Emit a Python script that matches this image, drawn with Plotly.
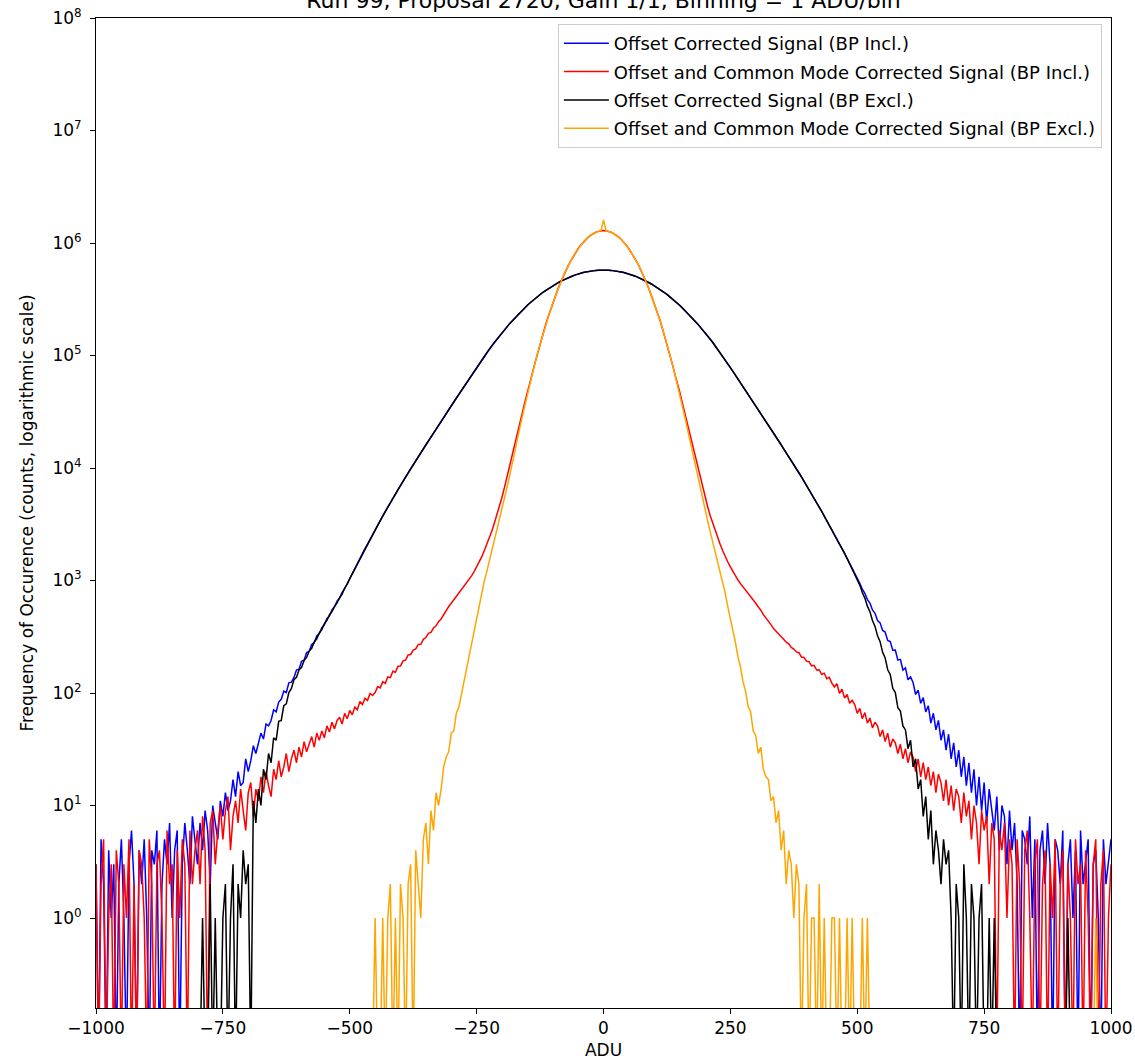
import plotly.graph_objects as go

# Histogram bin centres (ADU), sampled every 5 ADU
adu = list(range(-1000, 1001, 5))

x_tick_vals = [-1000, -750, -500, -250, 0, 250, 500, 750, 1000]
x_tick_text = ["\u22121000", "\u2212750", "\u2212500", "\u2212250", "0", "250", "500", "750", "1000"]
y_tick_vals = [1, 10, 100, 1000, 1e4, 1e5, 1e6, 1e7, 1e8]
y_tick_text = ["10<sup>%d</sup>" % k for k in range(9)]

# ---- Offset corrected signal: central part (x = -480 ... 480), identical for BP incl./excl.
offset_core = [
    1570, 1740, 1920, 2110, 2330, 2570, 2820, 3110, 3410, 3740,
    4110, 4500, 4930, 5390, 5890, 6430, 7020, 7650, 8330, 9070,
    9860, 10700, 11600, 12600, 13700, 14800, 16100, 17400, 18900, 20500,
    22200, 24000, 26000, 28200, 30500, 33000, 35700, 38600, 41800, 45200,
    48900, 52900, 57200, 61800, 66800, 72200, 78000, 84200, 91000, 98000,
    106000, 114000, 122000, 131000, 140000, 150000, 160000, 170000, 181000, 192000,
    203000, 215000, 227000, 240000, 253000, 266000, 280000, 293000, 307000, 321000,
    335000, 349000, 363000, 375000, 389000, 403000, 417000, 430000, 443000, 456000,
    468000, 480000, 491000, 502000, 512000, 521000, 531000, 539000, 546000, 553000,
    559000, 564000, 568000, 571000, 573000, 575000,
    575000,
    575000, 573000, 571000, 568000, 564000, 559000,
    553000, 546000, 539000, 531000, 521000, 512000, 502000, 491000, 480000, 468000,
    456000, 443000, 430000, 417000, 403000, 389000, 375000, 363000, 349000, 335000,
    321000, 307000, 293000, 280000, 266000, 253000, 240000, 227000, 215000, 203000,
    192000, 181000, 170000, 160000, 150000, 140000, 131000, 122000, 114000, 106000,
    98000, 91000, 84200, 78000, 72200, 66800, 61800, 57200, 52900, 48900,
    45200, 41800, 38600, 35700, 33000, 30500, 28200, 26000, 24000, 22200,
    20500, 18900, 17400, 16100, 14800, 13700, 12600, 11600, 10700, 9860,
    9070, 8330, 7650, 7020, 6430, 5890, 5390, 4930, 4500, 4110,
    3740, 3410, 3110, 2820, 2570, 2330, 2110, 1920, 1740, 1570,
]

# Offset Corrected Signal (BP Incl.) tails: x = -1000 ... -485 and 485 ... 1000
blue_left = [
    3, 0, 5, 2, 0, 4, 1, 3, 0, 2, 5, 1, 0, 3, 6, 2, 0, 4, 2, 5,
    1, 0, 4, 3, 6, 0, 2, 5, 3, 7, 1, 4, 6, 0, 3, 7, 4, 2, 8, 5, 3,
    7, 4, 9, 6, 2, 10, 7, 5, 11, 8,
    13, 9, 11, 17, 12, 20, 15, 16, 26, 20, 25, 34, 29, 35, 44, 39, 53, 51, 57, 71,
    68, 83, 88,
    104, 101, 123, 125, 137, 160, 163, 191, 196, 229, 234, 270, 280, 321, 337, 381,
    404, 458, 484, 548, 584, 655, 701, 785, 845, 940,
    1049, 1151, 1288, 1413,
]
blue_right = [
    1425, 1276, 1162, 1039,
    945, 836, 769, 676, 629, 548, 511, 441, 420, 360, 348, 293, 286, 240, 241, 196,
    199, 160, 167, 131, 139, 124, 97, 106, 81, 91, 68, 77, 54, 66, 47, 57, 38, 47, 31, 43,
    26, 36, 22, 31, 18, 27, 15, 24, 13, 21, 10, 18, 9, 16,
    7, 14, 9, 6, 12, 4, 10, 8, 3, 9,
    4, 7, 2, 0, 6, 5, 3, 8, 1, 5, 0, 4, 6, 2, 7, 3, 0, 5, 4, 2,
    6, 0, 3, 5, 1, 4, 0, 6, 2, 3, 5, 0, 3, 4, 1, 0, 5, 2, 3, 5,
]

# Offset Corrected Signal (BP Excl.) tails
black_left = [
    0, 0, 0, 0, 0, 0, 0, 0, 0, 0, 0, 0, 0, 0, 0, 0, 0, 0, 0, 0,
    0, 0, 0, 0, 0, 0, 0, 0, 0, 0, 0, 0, 0, 0, 0, 0, 0, 0, 0, 0, 0, 0,
    1, 0, 0, 2, 0, 1, 0, 0, 1, 2, 0, 1, 3, 0, 2, 1, 4, 2, 3,
    0, 11, 7, 14, 10, 21, 17, 29, 24, 40, 38, 56, 57, 77, 80, 101,
    110, 131, 138, 160, 169, 195, 207, 236, 250, 284, 303, 342, 366, 413, 443, 494,
    530, 589, 633, 701, 758, 858, 930, 1040, 1150, 1275, 1410,
]
black_right = [
    1405, 1265, 1140, 1025,
    910, 783, 697, 592, 527, 441, 391, 322, 286, 230, 205, 161,
    146, 110, 101, 74, 69, 51, 47, 32, 38, 22, 26, 14, 17,
    8, 12, 5, 9, 3, 6, 4, 2, 5, 3, 4,
    1, 0, 2, 1, 0, 3, 1, 0, 2, 1, 0, 1, 2, 0, 0, 1, 0, 1,
    0, 0, 0, 0, 0, 0, 0, 0, 0, 0, 0, 0, 0, 0, 0, 0, 0, 0, 0, 0,
    0, 0, 0, 0, 0, 0, 0, 0, 1, 0, 0, 0, 0, 0, 0, 0, 0, 0, 0, 0,
    0, 0, 0, 0, 0, 0,
]

# ---- Offset + common mode corrected: central part (x = -140 ... 140)
cm_core = [
    70100, 86000, 105000, 126000, 152000, 181000, 214000, 250000, 292000, 337000,
    387000, 440000, 498000, 559000, 622000, 688000, 755000, 822000, 889000, 954000,
    1016000, 1074000, 1127000, 1174000, 1214000, 1246000, 1269000, 1287000,
    1290000,
    1287000, 1269000, 1246000, 1214000, 1174000, 1127000, 1074000, 1016000,
    954000, 889000, 822000, 755000, 688000, 622000, 559000, 498000, 440000, 387000,
    337000, 292000, 250000, 214000, 181000, 152000, 126000, 105000, 86000, 70100,
]
orange_peak = 1600000  # single spike in the x = 0 bin (BP excl.)

# Offset and Common Mode Corrected Signal (BP Incl.) tails: x = -1000 ... -145 and 145 ... 1000
red_left = [
    3, 0, 2, 5, 0, 1, 3, 0, 4, 2, 0, 3, 1, 5, 0, 2, 0, 4, 3, 1,
    0, 5, 2, 0, 3, 4, 1, 0, 6, 2, 3, 0, 4, 1, 5, 3, 0, 6, 2, 4,
    6, 2, 8, 4, 0, 7, 9, 3, 6, 10, 5, 9, 12, 4, 8, 11, 7, 14, 9, 6,
    13, 16, 8, 14, 11, 18, 13, 20, 15, 12, 21, 17, 25, 18, 22, 29, 20, 26, 31, 24,
    33, 27, 37, 30, 35, 41, 33, 44, 38, 46, 40, 51, 45, 55, 48, 57, 61, 53, 66, 59,
    70, 64, 75, 71, 84, 79, 90, 86, 99, 95,
    101, 114, 111, 126, 122, 139, 137, 156, 153, 173,
    174, 193, 196, 218, 220, 241, 247, 270, 271, 300,
    311, 339, 346, 378, 395, 431, 455, 500, 536, 587,
    627, 672, 718, 772, 818, 876, 934,
    1010, 1100, 1200, 1320, 1460, 1620, 1840, 2090, 2400,
    2750, 3240, 3800, 4570, 5500, 6760, 8320, 10400, 12900, 16000,
    19950, 24800, 30900, 38500, 47900, 58900,
]
red_right = [
    58900, 47900, 38500, 30900, 24800, 19950, 16000, 12900, 10400, 8320,
    6760, 5500, 4570, 3800, 3240, 2750, 2400, 2090, 1840, 1620,
    1460, 1320, 1200, 1100, 1010,
    938, 880, 825, 778, 725, 672, 628, 582, 545, 497,
    466, 429, 405, 374, 356, 335, 316, 301, 283, 274,
    254, 246, 232, 228, 209, 207, 192, 190, 174, 176,
    160, 161, 146, 150, 134, 138, 122,
    113, 121, 99, 108, 90, 97, 81, 86, 79, 66, 73, 59, 67, 54, 60, 49, 55, 51, 41, 47,
    37, 44, 33, 39, 36, 29, 35, 26, 32, 24, 30, 27, 20, 26, 18, 24, 17, 22, 15, 20,
    13, 19, 16, 11, 17, 10, 15, 9, 14, 12, 7, 13, 8, 11, 5, 10, 7, 3, 9, 6,
    8, 2, 7, 5, 0, 6, 4, 7, 1, 5,
    3, 0, 5, 2, 0, 4, 6, 1, 0, 3, 5, 0, 2, 4, 0, 3, 1, 5, 0, 2,
    4, 0, 3, 1, 0, 5, 2, 3, 0, 4, 1, 0, 3, 5, 0, 2, 4, 0, 1, 3,
]

# Offset and Common Mode Corrected Signal (BP Excl.) tails
orange_left = [
    0, 0, 0, 0, 0, 0, 0, 0, 0, 0, 0, 0, 0, 0, 0, 0, 0, 0, 0, 0,
    0, 0, 0, 0, 0, 0, 0, 0, 0, 0, 0, 0, 0, 0, 0, 0, 0, 0, 0, 0,
    0, 0, 0, 0, 0, 0, 0, 0, 0, 0, 0, 0, 0, 0, 0, 0, 0, 0, 0, 0,
    0, 0, 0, 0, 0, 0, 0, 0, 0, 0, 0, 0, 0, 0, 0, 0, 0, 0, 0, 0,
    0, 0, 0, 0, 0, 0, 0, 0, 0, 0, 0, 0, 0, 0, 0, 0, 0, 0, 0, 0,
    0, 0, 0, 0, 0, 0, 0, 0, 0, 0,
    1, 0, 0, 1, 0, 1, 2, 0, 1, 0, 2, 1, 0, 2,
    3, 0, 4, 2, 1, 5, 7, 3, 9, 6, 13, 10, 14, 22, 27, 30, 44, 46, 66, 75,
    97, 133, 162, 219, 270, 361, 451, 597, 752, 988,
    1200, 1480, 1820, 2240, 2750, 3430, 4270, 5370, 6760, 8500,
    10700, 13800, 17800, 22600, 28800, 36300, 45500, 56700,
]
orange_right = [
    56700, 45500, 36300, 28800, 22600, 17800, 13800, 10700, 8500, 6760,
    5370, 4270, 3430, 2750, 2240, 1820, 1480, 1200, 985, 768,
    583, 462, 349, 281, 209, 170, 125, 104,
    76, 68, 46, 42, 29, 33, 21, 18, 17, 11, 12, 7, 9, 4, 6, 2, 4, 3, 1, 3,
    2, 0, 1, 2, 0, 1, 1, 0, 2, 0, 1, 0, 0, 1, 1, 0, 1, 0, 0, 1,
    0, 1, 0, 0, 0, 1, 0, 1,
    0, 0, 0, 0, 0, 0, 0, 0, 0, 0, 0, 0, 0, 0, 0, 0, 0, 0, 0, 0,
    0, 0, 0, 0, 0, 0, 0, 0, 0, 0, 0, 0, 0, 0, 0, 0, 0, 0, 0, 0,
    0, 0, 0, 0, 0, 0, 0, 0, 0, 0, 0, 0, 0, 0, 0, 0, 0, 0, 0, 0,
    0, 0, 0, 0, 0, 0, 0, 0, 0, 0, 0, 0, 0, 0, 0, 0, 0, 0, 0, 0,
    0, 0, 0, 0, 0, 0, 0, 0, 0, 1, 0, 0, 0, 0, 0, 0,
]

blue_counts = blue_left + offset_core + blue_right
black_counts = black_left + offset_core + black_right
red_counts = red_left + cm_core + red_right
orange_counts = orange_left + cm_core[:28] + [orange_peak] + cm_core[29:] + orange_right

series_names = [
    "Offset Corrected Signal (BP Incl.)",
    "Offset and Common Mode Corrected Signal (BP Incl.)",
    "Offset Corrected Signal (BP Excl.)",
    "Offset and Common Mode Corrected Signal (BP Excl.)",
]
series_counts = [blue_counts, red_counts, black_counts, orange_counts]
series_colors = ["#0000ff", "#ff0000", "#000000", "#ffa500"]

for c in series_counts:
    assert len(c) == len(adu), len(c)

fig = go.Figure()
for i, (name, counts, color) in enumerate(zip(series_names, series_counts, series_colors)):
    # empty bins drop below the visible log range (as in the original step plot)
    yv = [v if v > 0 else 0.05 for v in counts]
    fig.add_trace(go.Scatter(x=adu, y=yv, mode="lines", name=name, legendgroup="g%d" % i,
                             line=dict(color=color, width=1.5)))

fig.update_layout(
    width=1135, height=1063,
    margin=dict(l=96, r=24, t=18, b=55, pad=0),
    paper_bgcolor="white", plot_bgcolor="white",
    font=dict(family="DejaVu Sans, sans-serif", size=17, color="black"),
    title=dict(text="Run 99, Proposal 2720, Gain 1/1, Binning = 1 ADU/bin",
               x=0.5, xref="paper", xanchor="center",
               y=1.0, yref="container", yanchor="middle",
               font=dict(size=22)),
    legend=dict(x=0.991, y=0.994, xanchor="right", yanchor="top",
                bgcolor="rgba(255,255,255,0.85)", bordercolor="#cccccc",
                borderwidth=1, font=dict(size=18), tracegroupgap=2,
                itemwidth=45),
    showlegend=True,
)
fig.update_xaxes(range=[-1000, 1000], tickvals=x_tick_vals, ticktext=x_tick_text,
                 ticks="outside", ticklen=5, tickcolor="black",
                 showline=True, linecolor="black", linewidth=1, mirror=True,
                 showgrid=False, zeroline=False, automargin=False,
                 tickfont=dict(size=17),
                 title=dict(text="ADU", standoff=6, font=dict(size=17)))
fig.update_yaxes(type="log", range=[-0.8, 8], tickvals=y_tick_vals, ticktext=y_tick_text,
                 ticks="outside", ticklen=5, tickcolor="black", ticklabelstandoff=5,
                 showline=True, linecolor="black", linewidth=1, mirror=True,
                 showgrid=False, zeroline=False, automargin=False,
                 tickfont=dict(size=17),
                 title=dict(text="Frequency of Occurence (counts, logarithmic scale)",
                            standoff=14, font=dict(size=17)))

fig.write_html("out.html", config={"displayModeBar": False},
               post_script="document.body.style.margin='0';")
